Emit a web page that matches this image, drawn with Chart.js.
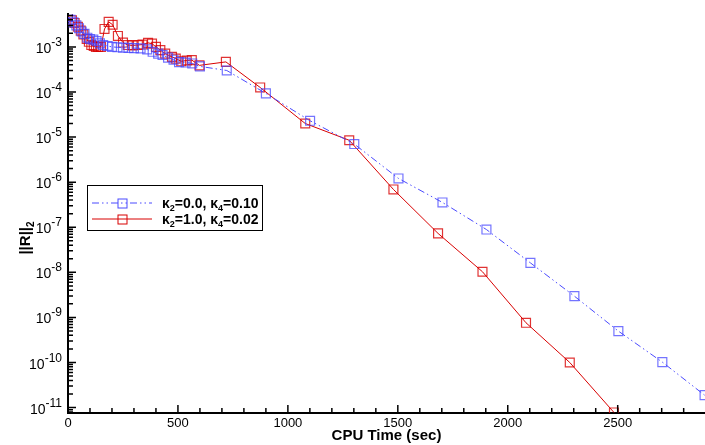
<!DOCTYPE html>
<html>
<head>
<meta charset="utf-8">
<script src="https://cdn.jsdelivr.net/npm/chart.js@4"></script>
<style>
  html, body { margin: 0; padding: 0; background: #fff; }
  #wrap { width: 705px; height: 445px; position: relative; }
</style>
</head>
<body>
<div id="wrap"><canvas id="c"></canvas></div>
<script>
// kappa2 = 0.0, kappa4 = 0.10 (blue, dash-dot-dot)
const blueTime = [0, 12, 25, 38, 50, 62, 75, 88, 100, 115, 130, 145, 160, 180, 200, 225, 250, 275, 300, 330,
  360, 385, 410, 430, 455, 480, 505, 535, 565, 600, 722, 900, 1101, 1302, 1503, 1703, 1903, 2103, 2303, 2503, 2703, 2895];
const blueRes = [4.6e-3, 4.0e-3, 3.5e-3, 3.0e-3, 2.6e-3, 2.2e-3, 1.95e-3, 1.6e-3, 1.5e-3, 1.45e-3, 1.35e-3, 1.2e-3, 1.1e-3, 1.05e-3, 1.0e-3, 9.8e-4, 9.6e-4, 9.5e-4, 9.4e-4, 9.3e-4,
  8.8e-4, 7.8e-4, 7.1e-4, 6.6e-4, 5.8e-4, 5.2e-4, 4.6e-4, 4.5e-4, 4.3e-4, 3.7e-4, 3.0e-4, 9.3e-5, 2.3e-5, 7.0e-6, 1.21e-6, 3.55e-7, 8.9e-8, 1.62e-8, 2.96e-9, 4.97e-10, 1.02e-10, 1.89e-11];

// kappa2 = 1.0, kappa4 = 0.02 (red, solid)
const redTime = [0, 18, 30, 45, 58, 70, 85, 95, 106, 117, 127, 137, 150, 166, 185, 203, 227, 250, 272, 294, 318,
  339, 364, 382, 400, 420, 442, 473, 490, 515, 540, 563, 598, 718, 874, 1079, 1279, 1480, 1683, 1885, 2083, 2282, 2483];
const redRes = [4.7e-3, 3.9e-3, 3.4e-3, 2.8e-3, 2.3e-3, 1.9e-3, 1.5e-3, 1.3e-3, 1.1e-3, 1.05e-3, 1.0e-3, 1.0e-3, 1.0e-3, 2.5e-3, 3.6e-3, 3.1e-3, 1.75e-3, 1.25e-3, 1.1e-3, 1.08e-3, 1.1e-3,
  1.13e-3, 1.23e-3, 1.18e-3, 1.0e-3, 8.5e-4, 7.1e-4, 6.0e-4, 5.5e-4, 4.8e-4, 5.0e-4, 5.1e-4, 3.9e-4, 4.65e-4, 1.26e-4, 2.0e-5, 8.5e-6, 6.9e-7, 7.3e-8, 1.03e-8, 7.6e-10, 1.0e-10, 7.8e-12];

const xMajor = [0, 500, 1000, 1500, 2000, 2500];
const yDecades = [-3, -4, -5, -6, -7, -8, -9, -10, -11];
const legendLabels = [
  { k2: '0.0', k4: '0.10' },
  { k2: '1.0', k4: '0.02' }
];

const BLUE = '#4a4aff';
const RED = '#d80000';
const FONT = '"Liberation Sans", Arial, sans-serif';

function toXY(xs, ys) { return xs.map((x, i) => ({ x: x, y: ys[i] })); }

// tick marks inside the axes, superscript y labels, y title and the boxed legend
const decor = {
  id: 'decor',
  afterDraw(chart) {
    const ctx = chart.ctx, xs = chart.scales.x, ys = chart.scales.y, a = chart.chartArea;
    ctx.save();
    ctx.strokeStyle = '#000';
    ctx.lineWidth = 1.5;
    ctx.beginPath();
    for (let v = 0; v <= xs.max; v += 100) {
      const px = xs.getPixelForValue(v);
      const len = v % 500 === 0 ? 8 : 5;
      ctx.moveTo(px, a.bottom); ctx.lineTo(px, a.bottom - len);
    }
    for (let d = -12; d <= -2; d++) {
      for (let m = 1; m <= 9; m++) {
        const v = m * Math.pow(10, d);
        if (v < ys.min || v > ys.max) continue;
        const py = ys.getPixelForValue(v);
        const len = m === 1 ? 8 : 5;
        ctx.moveTo(a.left, py); ctx.lineTo(a.left + len, py);
      }
    }
    ctx.stroke();

    // y tick labels 10^n
    ctx.fillStyle = '#000';
    ctx.textBaseline = 'alphabetic';
    yDecades.forEach(d => {
      const py = ys.getPixelForValue(Math.pow(10, d));
      const exp = '-' + (-d);
      ctx.font = '12px ' + FONT;
      const ew = ctx.measureText(exp).width;
      const right = a.left - 6;
      ctx.textAlign = 'right';
      ctx.fillText(exp, right, py - 1);
      ctx.font = '14px ' + FONT;
      ctx.fillText('10', right - ew, py + 6);
    });

    // y title ||R||_2
    ctx.save();
    ctx.translate(30, 238);
    ctx.rotate(-Math.PI / 2);
    ctx.font = 'bold 15px ' + FONT;
    const tw = ctx.measureText('||R||').width;
    ctx.font = 'bold 10px ' + FONT;
    const sw = ctx.measureText('2').width;
    const x0 = -(tw + sw) / 2;
    ctx.textAlign = 'left';
    ctx.font = 'bold 15px ' + FONT;
    ctx.fillText('||R||', x0, 0);
    ctx.font = 'bold 10px ' + FONT;
    ctx.fillText('2', x0 + tw, 4);
    ctx.restore();

    // legend
    const bx = 87, by = 185, bw = 175, bh = 45;
    ctx.fillStyle = '#fff';
    ctx.fillRect(bx, by, bw, bh);
    ctx.lineWidth = 1;
    ctx.strokeStyle = '#000';
    ctx.strokeRect(bx + 0.5, by + 0.5, bw, bh);
    const rows = [203, 219];
    chart.data.datasets.forEach((ds, i) => {
      const ry = rows[i];
      ctx.strokeStyle = ds.borderColor;
      ctx.lineWidth = 1;
      ctx.setLineDash(ds.borderDash || []);
      ctx.beginPath();
      ctx.moveTo(92, ry); ctx.lineTo(152, ry);
      ctx.stroke();
      ctx.setLineDash([]);
      ctx.strokeRect(118, ry - 4, 9, 9);
      let tx = 162;
      const L = legendLabels[i];
      const parts = [['\u03ba', 0], ['2', 1], ['=' + L.k2 + ', ', 0], ['\u03ba', 0], ['4', 1], ['=' + L.k4, 0]];
      ctx.fillStyle = '#000';
      ctx.textAlign = 'left';
      parts.forEach(p => {
        ctx.font = p[1] ? 'bold 9px ' + FONT : 'bold 14px ' + FONT;
        ctx.fillText(p[0], tx, ry + 5 + (p[1] ? 3 : 0));
        tx += ctx.measureText(p[0]).width;
      });
    });
    ctx.restore();
  }
};

const chart = new Chart(document.getElementById('c'), {
  type: 'line',
  data: {
    datasets: [
      {
        label: 'k2=0.0, k4=0.10',
        data: toXY(blueTime, blueRes),
        borderColor: BLUE,
        borderWidth: 1,
        borderDash: [7, 3, 1.5, 3, 1.5, 3],
        pointStyle: 'rect',
        pointRadius: 6.3,
        pointBorderWidth: 1.2,
        pointBorderColor: 'rgba(70,70,255,0.75)',
        pointBackgroundColor: 'rgba(0,0,0,0)',
        tension: 0
      },
      {
        label: 'k2=1.0, k4=0.02',
        data: toXY(redTime, redRes),
        borderColor: RED,
        borderWidth: 1,
        pointStyle: 'rect',
        pointRadius: 6.3,
        pointBorderWidth: 1.2,
        pointBorderColor: 'rgba(216,0,0,0.8)',
        pointBackgroundColor: 'rgba(0,0,0,0)',
        tension: 0
      }
    ]
  },
  options: {
    responsive: true,
    maintainAspectRatio: false,
    animation: false,
    layout: { padding: { top: 14, right: 0, left: 0, bottom: 0 } },
    plugins: { legend: { display: false }, tooltip: { enabled: false } },
    scales: {
      x: {
        type: 'linear',
        min: 0,
        max: 2897,
        afterBuildTicks: s => { s.ticks = xMajor.map(v => ({ value: v })); },
        afterFit: s => { s.height = 32; s.paddingLeft = 0; s.paddingRight = 0; },
        border: { display: true, color: '#000', width: 2 },
        grid: { display: true, drawOnChartArea: false, drawTicks: false },
        ticks: {
          autoSkip: false,
          maxRotation: 0,
          padding: 3,
          color: '#000',
          font: { family: FONT, size: 13 },
          callback: v => String(v)
        },
        title: {
          display: true,
          text: 'CPU Time (sec)',
          color: '#000',
          padding: 0,
          font: { family: FONT, size: 15, weight: 'bold' }
        }
      },
      y: {
        type: 'logarithmic',
        min: Math.pow(10, -11.12),
        max: Math.pow(10, -2.27),
        afterFit: s => { s.width = 68; },
        border: { display: true, color: '#000', width: 2 },
        grid: { display: true, drawOnChartArea: false, drawTicks: false },
        ticks: { display: false }
      }
    }
  },
  plugins: [decor]
});

// markers at the plot edge are clipped like in the original, so no extra room for them
chart.data.datasets.forEach((ds, i) => {
  chart.getDatasetMeta(i).controller.getMaxOverflow = () => 0;
});
chart.update();
</script>
</body>
</html>
